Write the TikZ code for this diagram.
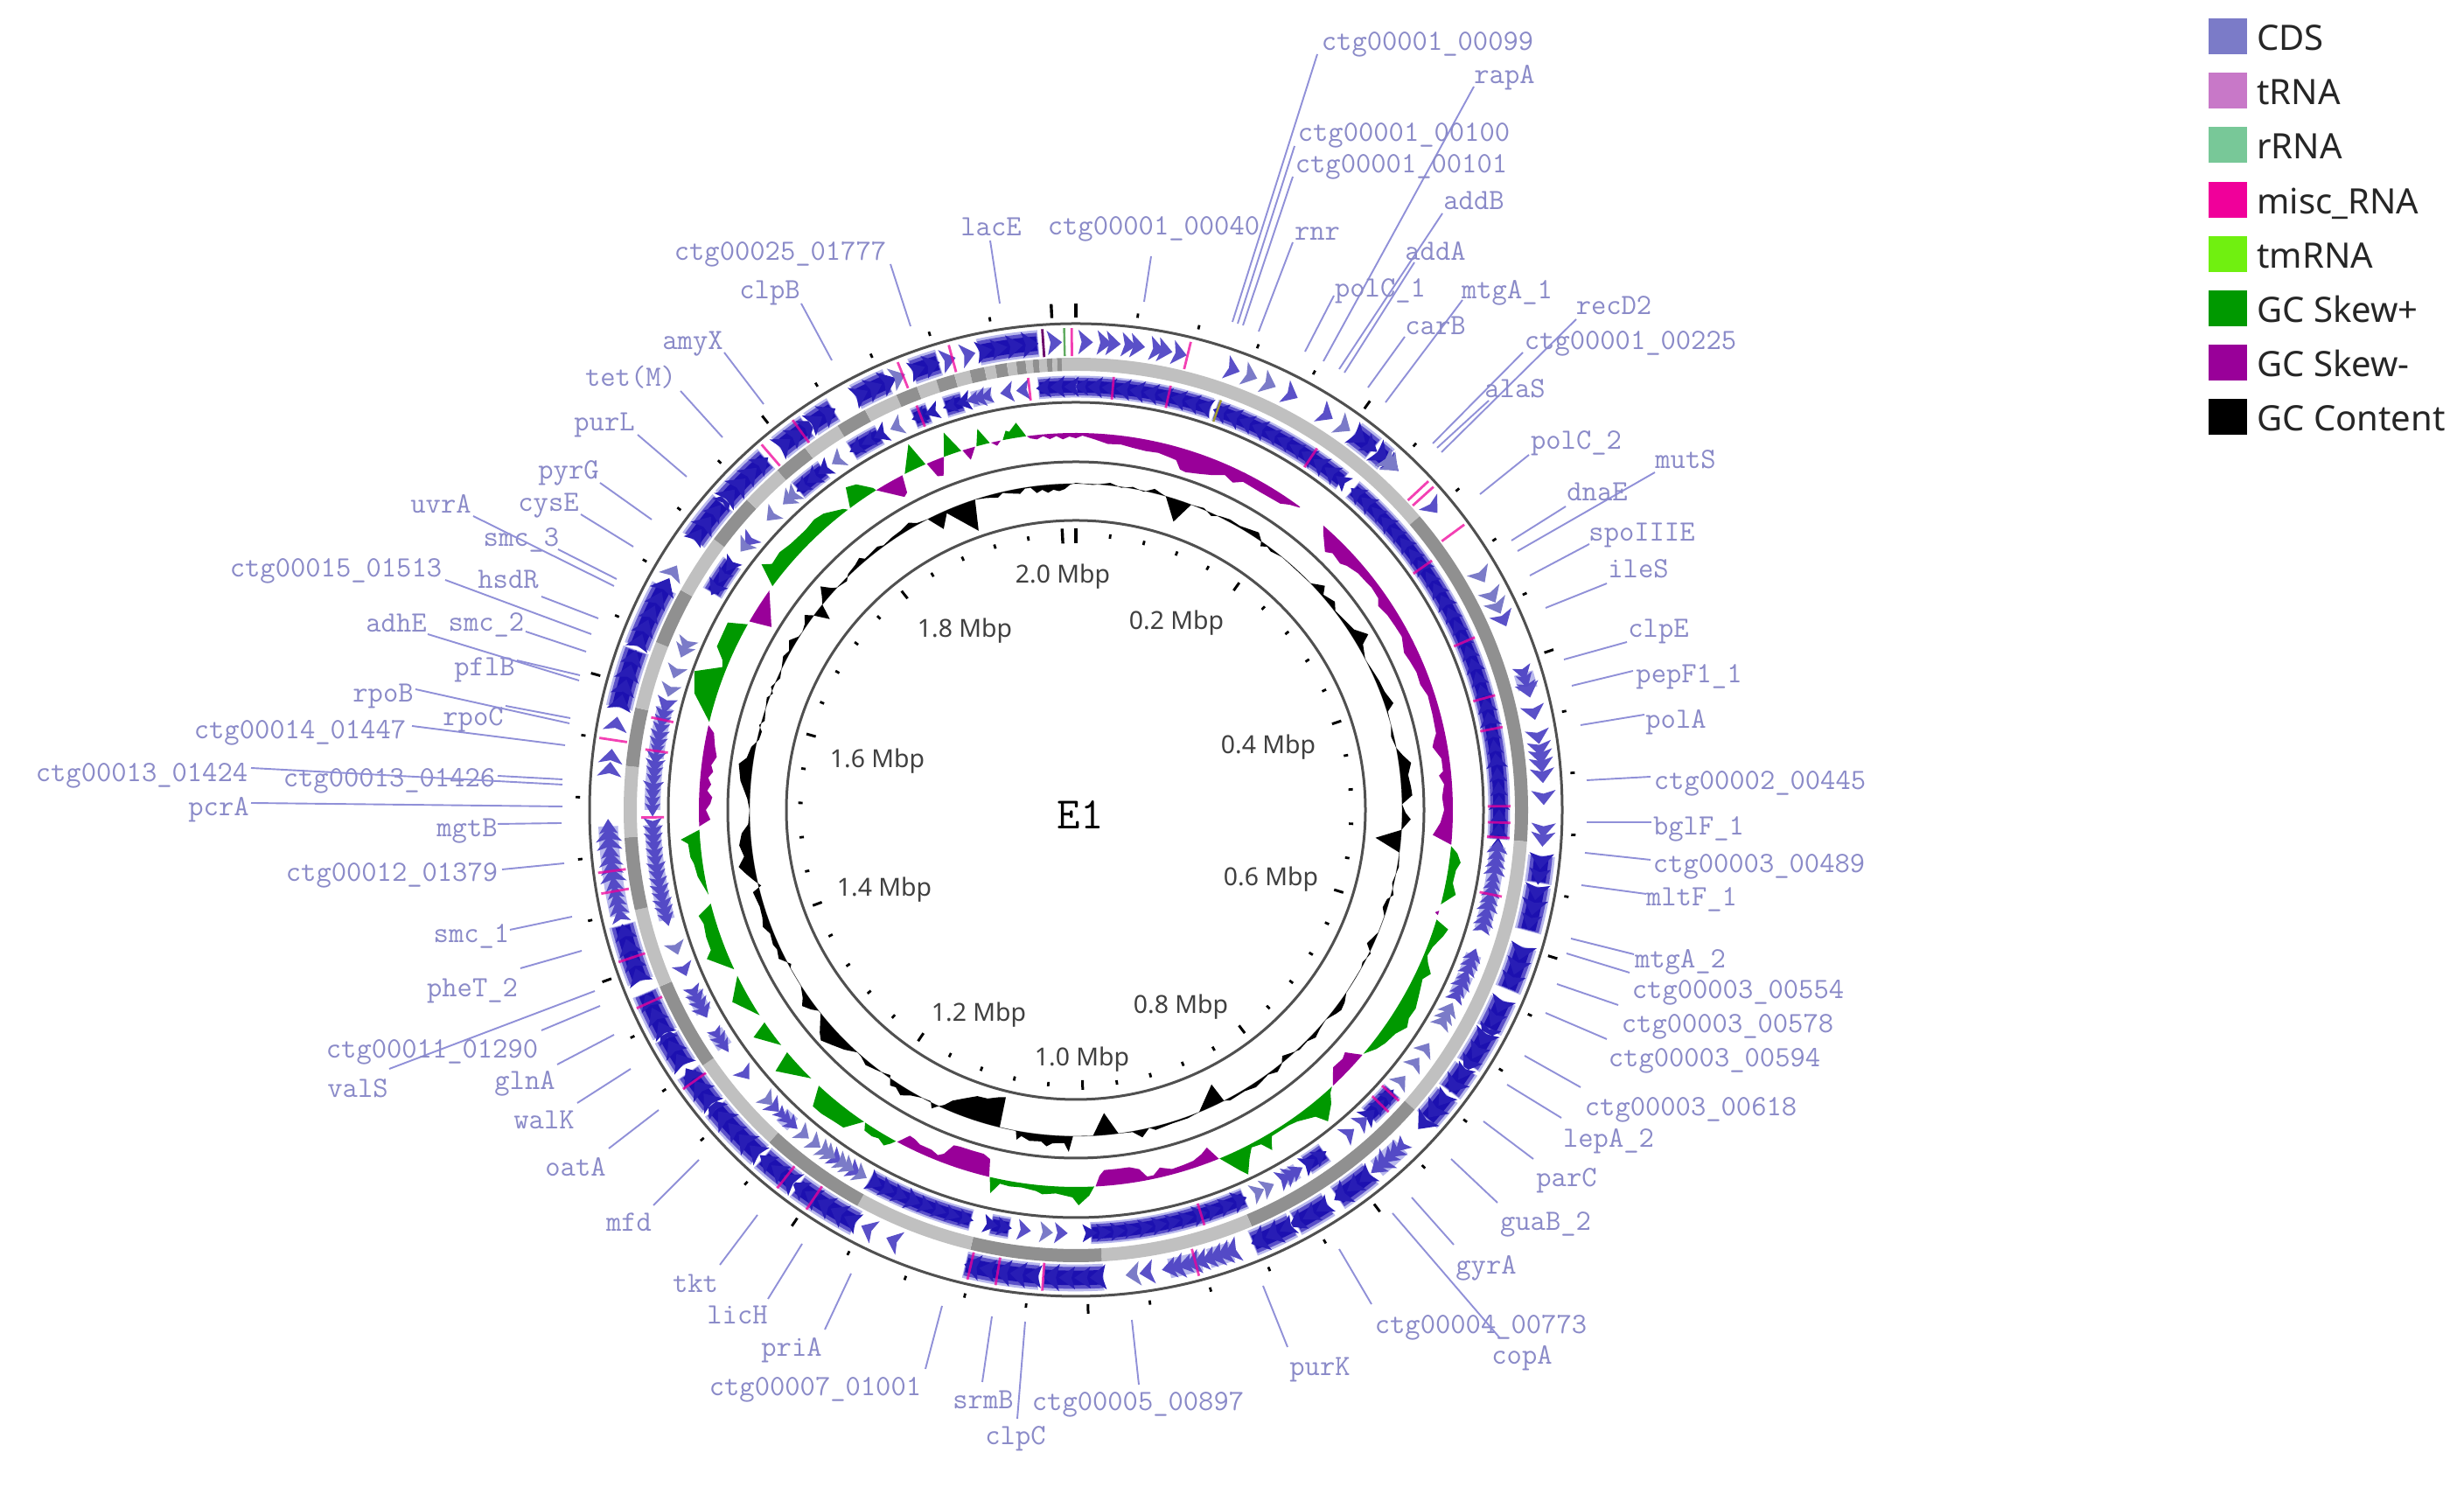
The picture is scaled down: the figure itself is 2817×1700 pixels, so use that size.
\documentclass[tikz,border=0pt]{standalone}
\usepackage{fontspec}
\setsansfont{Noto Sans}
\definecolor{cdsL}{HTML}{7B7BC8}\definecolor{trnaL}{HTML}{C878C8}\definecolor{rrnaL}{HTML}{78C898}
\definecolor{miscL}{HTML}{F0009A}\definecolor{tmL}{HTML}{70F010}\definecolor{skP}{HTML}{009900}
\definecolor{skM}{HTML}{990099}\definecolor{gL}{HTML}{C0C0C0}\definecolor{gD}{HTML}{909090}
\definecolor{labC}{HTML}{8A8AC8}\definecolor{lineC}{HTML}{9090D8}\definecolor{ringC}{HTML}{505050}
\definecolor{deep}{HTML}{1C10B0}\definecolor{midb}{HTML}{5A50C8}\definecolor{halo}{HTML}{B8B8EC}
\tikzset{
  glabel/.style={text=labC,font=\ttfamily\fontsize{16.8}{18}\selectfont,inner sep=0pt,text height=12pt,text depth=2pt},
  gline/.style={lineC,line width=0.95pt},
  mbp/.style={text=black!75,font=\sffamily\fontsize{14.2}{16}\selectfont,inner sep=0pt,text height=10.5pt,text depth=0pt},
  swatch/.style={minimum width=22pt,minimum height=20.5pt,inner sep=0pt,draw=none},
  legtext/.style={text=black!85,font=\sffamily\fontsize{20}{22}\selectfont,inner sep=0pt,anchor=west,text height=14.5pt,text depth=0pt}
}
\newcommand\arcseg[5]{\draw[#5,line width=#2*0.5pt] ({90-(#3)}:#1) arc[start angle={90-(#3)},end angle={90-(#4)},radius=#1];}
% chevron: radius, angle, direction, half height, half angular width, colour
\newcommand\chv[6]{\fill[#6] ({90-(#2-(#3)*#5)}:{#1+#4}) -- ({90-(#2+(#3)*#5)}:{#1}) -- ({90-(#2-(#3)*#5)}:{#1-#4}) -- ({90-(#2-0.55*(#3)*#5)}:{#1}) -- cycle;}
% dense block
\newcommand\dens[5]{%
  \arcseg{#1}{#2*0.96}{#3}{#4}{halo}
  \arcseg{#1}{#2*0.78}{#3+0.1}{#4-0.1}{midb}
  \arcseg{#1}{#2*0.52}{#3+0.2}{#4-0.2}{deep}
  \pgfmathsetmacro\nxt{#3+1.9}
  \foreach \ta in {#3,\nxt,...,#4}{
    \pgfmathsetmacro\hh{#2*(0.36+0.13*rnd)}
    \pgfmathsetmacro\tb{\ta+0.7}
    \chv{#1}{\tb}{#5}{\hh}{1.0}{deep!80!midb}
  }}
% medium block
\newcommand\med[5]{%
  \arcseg{#1}{#2*0.7}{#3}{#4}{halo}
  \pgfmathsetmacro\nxt{#3+1.0}
  \foreach \ta in {#3,\nxt,...,#4}{
    \pgfmathsetmacro\hh{#2*(0.30+0.18*rnd)}
    \chv{#1}{\ta}{#5}{\hh}{0.9}{midb!90!deep}
  }}
\newcommand\mbar[3]{\draw[miscL,opacity=0.75,line width=1.4pt] ({90-(#3)}:{#1-#2}) -- ({90-(#3)}:{#1+#2});}
\newcommand\band[4]{%
  \foreach \ta/\hh in {#4}{\xdef\lastT{\ta}}%
  \fill[#1] ({90-(#3)}:431) \foreach \ta/\hh in {#4}{ -- ({90-\ta}:{431+(#2)*\hh}) } -- ({90-\lastT}:431) arc[start angle={90-\lastT},end angle={90-(#3)},radius=431] -- cycle;}
\begin{document}
\begin{tikzpicture}[x=0.5pt,y=0.5pt]
\useasboundingbox (0,0) rectangle (2817,1700);
\fill[white] (0,0) rectangle (2817,1700);
\pgfmathsetseed{4711}
\begin{scope}[shift={(1230,774)}]
% ---- outer CDS track
\foreach \sa/\sb in {36.5/39.5,40/41.5,95.6/99,99.4/105,107/112.6,114/118,118.5/123,123.5/127,127.5/131.4,141/146,147.4/152,152.5/157.8,176.6/184,184.5/193.7,208/216.5,217/222,222.5/230.4,231/235.9,236.9/241,241.4/247,248.5/255.8,282.6/290,290.4/298.4,305.2/311,311.5/318.6,320.7/325,325.5/328.8,331.9/336.3,339.5/343,348/355.4}
  {\dens{535}{32}{\sa}{\sb}{1}}
\foreach \sa/\sb in {73/75,136/140,160.5/163.5,164.5/168.5,257/268}
  {\med{535}{32}{\sa}{\sb}{1}}
\foreach \ta in {1.2,3.5,4.6,6.5,7.6,10,11,12.8,19.6,27.4,32.4,49.7,66,75.2,78,81,82.5,83.5,84.5,85.8,88.5,92.5,93.6,171.3,203,206.4,275,276.6,280.6,344.2,346.7,357.4}
  {\chv{535}{\ta}{1}{14}{0.9}{midb}}
\foreach \ta in {21.9,24.4,35,41.9,42.6,60,62.8,64.3,173,300.6,337.7}
  {\chv{535}{\ta}{1}{14}{0.9}{cdsL}}
\foreach \ta in {13.8,47,47.9,53.7,165.2,184,189.6,193,214,218.3,234.6,245.7,251.6,260,262.5,278.6,319.3,324,338.3,344.7,359.5}
  {\mbar{535}{16}{\ta}}
\draw[skM!70!black,line width=1.4pt] ({90-356}:519) -- ({90-356}:551);
\draw[skP!50!gL,line width=1.2pt] ({90-358.6}:519) -- ({90-358.6}:551);
% ---- contig ring
\foreach \sa/\sb/\sc in {0/49.5/gL,49.5/94/gD,94/131.5/gL,131.5/157.1/gD,157.1/176.7/gL,176.7/193.5/gD,193.5/208.9/gL,208.9/222.7/gD,222.7/235.6/gL,235.6/247/gD,247/257.2/gL,257.2/266.5/gD,266.5/275.6/gL,275.6/283.1/gD,283.1/291.8/gL,291.8/299.1/gD,299.1/306.8/gL,306.8/313.3/gD,313.3/318.7/gL,318.7/323.2/gD,323.2/328.2/gL,328.2/332.2/gD,332.2/336.6/gL,336.6/339.4/gD,339.4/342/gL,342/344.4/gD,344.4/346.4/gL,346.4/348.3/gD,348.3/349.7/gL,349.7/351.2/gD,351.2/352.4/gL,352.4/353.6/gD,353.6/354.5/gL,354.5/355.3/gD,355.3/356.3/gL,356.3/357/gD,357/357.6/gL,357.6/358.2/gD,358.2/360/gL}
  {\arcseg{509.5}{15}{\sa}{\sb}{\sc}}
% ---- inner CDS track
\foreach \sa/\sb in {0/18.6,19.2/39,40.8/94,131.6/136.2,144/147,156.5/178,189/191.6,194.3/209.2,300.8/305.7,319/323.5,328/332.4,337.5/339.7,342/344.5,354.9/360}
  {\dens{484}{26}{\sa}{\sb}{-1}}
\foreach \sa/\sb in {95/106.4,110/112.5,113/116,148.5/150.5,222/224,236/238.5,241.5/244.5,255/268,270/276.6,277/284,345.8/348.5}
  {\med{484}{26}{\sa}{\sb}{-1}}
\foreach \ta in {137.4,139.8,182,187,211.5,214.5,225.4,231.4,247.8,284.5,309.5,350.6,352.8}
  {\chv{484}{\ta}{-1}{12}{0.9}{midb}}
\foreach \ta in {118,119,120,124.3,126.7,129.8,153,154.5,184,210.5,212.5,213.5,215.5,216.4,218,220,226.7,250.9,286.4,289,292,293,308.5,314,317.1,318,325.7,334.9}
  {\chv{484}{\ta}{-1}{12}{0.9}{cdsL}}
\foreach \ta in {5,12.6,33.7,55,66.6,74.7,79,89.5,91.7,93.7,101.5,132,134,162.8,269,278,282.3,338.5,353.7}
  {\mbar{484}{13}{\ta}}
\draw[olive!70!gL,line width=1.2pt] ({90-19.5}:471) -- ({90-19.5}:497);
% ---- GC skew
\band{skM}{-1}{352.5}{353/3,354/5,355/2,356/6,357/3,358/7,359/4,360/6,361/3,362/5,363/7,365/11,367/10,369/12,371/13,373/12,375/14,376/15,377/24,378/25,380/22,382/18,384/12,385.6/16,387/10,390/11,393.7/10,395/5,396.5/1}
\band{skM}{-1}{41}{42/8,44/21,45/16,47/18,48/14,50/10,52/9,53/8,55/9,56/14,58/11,60/10,62/9,64.4/15,66/13,68/11,70/12,72/8,75/9,78/10,79/14,80/17,82/9,84/9,84.6/14,86/9,88/12,90/10,92/14,93/18,94/22,95.3/0}
\band{skP}{1}{95.5}{96.5/8,97.8/13,99/9,101/8,102.6/14,104.5/0}
\band{skM}{-1}{105.5}{105.9/4,106.2/0}
\band{skP}{1}{106.9}{107.8/16,109/13,111/6,112.5/4,113.5/8,114.8/16,116/10,118/14,120.3/19,122/18,123.3/22,125/15,127/12,128.5/8,130.3/0}
\band{skM}{-1}{130.5}{131.2/8,132/17,133/14,135/15,136/8,137/0}
\band{skP}{1}{137.2}{138/4,139/14,141/27,142/14,144.6/6,146/4,149/4,149.5/10,150/18,151/6,152.5/4,153.5/14,154.7/30,155.5/22,157.6/0}
\band{skM}{-1}{157.7}{158.8/17,160/12,161.5/8,163/7,165/6,166.8/11,168/4,169/4,170/14,171.5/18,173.4/18,175.5/18,176.3/12,177/0}
\band{skP}{1}{177.2}{178/10,179.6/21,180.5/12,183/8,184/9,185/10,186/7,188.2/5,190/6,191.5/5,192.6/18,193.2/0}
\band{skM}{-1}{193.3}{193.8/20,195/24,197/24,199/24,200/23,201/10,201.8/6,203/9,205/9,206/12,207/13,208.3/0}
\band{skP}{1}{208.5}{209/5,209.8/11,211/7,212/9,213.4/8,214/0}
\band{skP}{1}{214.2}{216.2/19,218/20,220/22,221.6/22,223/0}
\band{skP}{1}{224.6}{229/24,230/0}
\band{skP}{1}{231.4}{234.8/20,235.7/0}
\band{skP}{1}{237}{240.8/19,243.9/0}
\band{skP}{1}{245}{248/24,249/16,251/16,253/14,254.3/17,255.6/0}
\band{skP}{1}{257}{260/8,262/10,263/13,265/14,265.7/22,267/0}
\band{skM}{-1}{267.5}{268.5/13,270/8,271/13,272/15,273/9,274/13,275/9,276/14,277/11,278.4/16,280/12,282/8,283/0}
\band{skP}{1}{283.5}{287/25,290/33,292/5,293/8,294.5/20,298.3/21,299.5/0}
\band{skM}{-1}{300}{301/25,305.6/0}
\band{skP}{1}{306.4}{308/25,309/16,311/18,313/15,316/14,318/16,319.6/14,322.3/4,322.8/0}
\band{skP}{1}{323.2}{324.5/22,326/18,327.8/4,328/0}
\band{skM}{-1}{328}{331.3/23,332/20,332.6/0}
\band{skP}{1}{333}{335.4/29,336.5/0}
\band{skM}{-1}{336.7}{337.5/18,338.4/20,339.5/0}
\band{skP}{1}{339.5}{340.7/26,342.3/0}
\band{skM}{-1}{342.5}{343.3/13,344.5/0}
\band{skP}{1}{344.7}{345.5/19,346.8/0}
\band{skM}{-1}{347}{347.8/5,348.5/0}
\band{skP}{1}{348.8}{349.5/10,350/8,351.2/17,352.3/2,352.4/0}
% ---- GC content
\draw[black!35,line width=0.4pt] (0,0) circle[radius=373];
\fill[black,even odd rule] (90:374) \foreach \ta/\hh in {3/-1,6/3,8/-1,10/2,12/-1,13.8/5,15/2,16/0,18.7/-25,20.7/0,23/2,24.7/-3,26/1,28/3,30/2,33.4/7,34.5/1,35/-5,36/-1,37/-3,39.2/0,46/0,47/5,48/10,49/2,51.2/7,52.5/1,55.4/4,57/6,59/17,60/6,62.5/0,65/2,67/4,69/5,71.4/10,72.5/1,75/0,76.9/-3,79/0,80.5/6,82/14,84/9,86/11,87.5/12,89/0,90.5/4,91.6/10,93.5/0,95.3/-29,97.5/0,100/2,103/-2,105/3,106/-3,107.6/-5,109/0,112/0,114.6/-7,116/2,118/-2,119/0,124/0,125.6/5,127/7,128/5,130/0,132/2,133.5/5,135/1,137/2,138.5/-2,140/-6,141/1,142.4/5,144/1,145.5/3,147/5,149/2,152/3,153/0,153.7/-23,157.8/0,160/2,163/2,166/4,167/0,168.5/9,170/1,172.5/0,174.7/-25,177/0,180.5/0,181.2/18,182/8,184/9,185/13,186/8,188/9,189.5/5,190.2/10,190.6/0,193.5/0,193.7/-35,195/-33,197/-28,199/-27,201/-20,203/-12,204/-4,205/1,205.8/6,206.5/-1,208/0,210/4,211.6/10,213/5,214/7,215/-3,217/1,219.5/5,221/1,222/0,224/8,226/14,227.9/20,229/15,231.5/0,232/0,233/6,234.4/12,235.5/6,237.5/0,241/0,241.6/-3,243.4/7,245/4,246/6,248/4,249.5/9,251/6,253/5,255.7/8,256.5/-3,257.5/3,259/11,260.4/18,262/10,264/14,266/10,267.5/2,270/0,272/3,275/12,277.8/16,279/8,281/5,282.5/-2,284/-3,285/2,286/-3,288/0,290/3,291/-2,292/3,294/-3,296/1,297.7/5,299/2,300.6/8,302/1,303/0,304.5/3,305.7/9,306.5/1,307.8/-17,309/0,310/6,311.2/15,312.3/4,313/0,315/-3,316/2,318/4,319.3/7,320/2,323/4,324/1,326/3,328/4,329.8/7,331/2,333/0,334.8/-18,336.5/-3,340.8/-35,342/0,344/-2,346/-5,347/-1,348/-3,350/-6,351/-1,352/-1,353/-8,354/-5,355/-9,356/-6,357/-8,358/-6,359/-1,360/1}{ -- ({90-\ta}:{373+\hh}) } -- ({90-360}:373) arc[start angle={90-360},end angle=90,radius=373] -- cycle;
% ---- rings
\foreach \rr in {556,466,398,331}{\draw[ringC,line width=1.5pt] (0,0) circle[radius=\rr];}
% ---- ticks
\foreach \ii in {0,...,50}{
  \pgfmathsetmacro\an{90-\ii*7.144}
  \pgfmathtruncatemacro\mm{mod(\ii,5)}
  \ifnum\ii=0
    \draw[black,line width=2.3pt] (\an:563) -- (\an:579);
    \draw[black,line width=2.3pt] (\an:305) -- (\an:322);
  \else\ifnum\ii=50
    \draw[black,line width=1.7pt] (\an:563) -- (\an:579);
    \draw[black,line width=1.7pt] (\an:305) -- (\an:322);
  \else\ifnum\mm=0
    \draw[black,line width=1.5pt] (\an:565) -- (\an:576);
    \draw[black,line width=1.5pt] (\an:309) -- (\an:320);
  \else
    \draw[black,line width=1.4pt] (\an:567) -- (\an:572);
    \draw[black,line width=1.4pt] (\an:312.5) -- (\an:317.5);
  \fi\fi\fi
}
\end{scope}
\begin{scope}[shift={(0,1700)},y=-0.5pt]
\foreach \nm/\xx/\yy/\tx/\xa/\ya/\xb/\yb in {
a/1632/48/ctg00001\_00099/1506/62/1409/368,
b/1720/86/rapA/1685/99/1513/413,
c/1605/152/ctg00001\_00100/1480/167/1415/370,
d/1602/188/ctg00001\_00101/1478/202/1421/372,
e/1685/230/addB/1649/244/1531/422,
f/1319/259/ctg00001\_00040/1316/293/1308/345,
g/1506/265/rnr/1478/277/1439/379,
h/1641/288/addA/1617/300/1537/426,
i/1578/330/polC\_1/1525/338/1492/402,
j/1723/332/mtgA\_1/1672/343/1584/460,
k/1845/350/recD2/1802/365/1648/517,
l/1864/390/ctg00001\_00225/1741/403/1638/507,
m/1641/373/carB/1606/385/1564/443,
n/1732/445/alaS/1702/458/1643/512,
o/1802/504/polC\_2/1748/520/1692/565,
p/1927/526/mutS/1892/540/1735/630,
q/1826/563/dnaE/1790/579/1728/618,
r/1877/609/spoIIIE/1817/622/1749/658,
s/1873/651/ileS/1837/667/1767/695,
t/1896/719/clpE/1860/734/1788/754,
u/1931/771/pepF1\_1/1867/767/1797/784,
v/1916/823/polA/1880/817/1807/829,
w/2012/893/ctg00002\_00445/1887/888/1814/892,
x/1942/945/bglF\_1/1888/940/1814/940,
y/2011/988/ctg00003\_00489/1887/983/1812/975,
z/1934/1026/mltF\_1/1882/1022/1808/1012,
aa/1921/1097/mtgA\_2/1868/1091/1796/1073,
ab/1987/1132/ctg00003\_00554/1863/1112/1791/1090,
ac/1975/1171/ctg00003\_00578/1850/1149/1780/1125,
ad/1960/1210/ctg00003\_00594/1837/1188/1767/1158,
ae/1933/1266/ctg00003\_00618/1807/1243/1743/1207,
af/1839/1302/lepA\_2/1785/1278/1723/1240,
ag/1791/1347/parC/1753/1325/1696/1282,
ah/1767/1397/guaB\_2/1712/1375/1659/1325,
ai/1699/1447/gyrA/1662/1423/1614/1369,
aj/1693/1515/ctg00004\_00773/1568/1491/1531/1428,
ak/1740/1550/copA/1715/1530/1592/1387,
al/1509/1563/purK/1472/1540/1444/1470,
am/1301/1603/ctg00005\_00897/1302/1583/1294/1509,
an/1161/1642/clpC/1163/1622/1172/1511,
ao/1124/1601/srmB/1123/1580/1134/1505,
ap/932/1586/ctg00007\_01001/1058/1565/1077/1493,
aq/905/1541/priA/943/1520/973/1456,
ar/843/1504/licH/878/1485/917/1422,
as/795/1468/tkt/823/1446/866/1389,
at/719/1398/mfd/747/1378/799/1326,
au/658/1335/oatA/696/1313/753/1269,
av/622/1281/walK/660/1261/721/1222,
aw/600/1236/glnA/637/1217/702/1183,
ax/409/1245/valS/445/1222/680/1133,
ay/494/1200/ctg00011\_01290/619/1178/686/1150,
az/540/1130/pheT\_2/595/1107/665/1087,
ba/539/1068/smc\_1/583/1063/654/1048,
bb/448/998/ctg00012\_01379/574/994/645/987,
bc/534/947/mgtB/569/942/642/941,
bd/250/923/pcrA/287/918/643/922,
be/445/890/ctg00013\_01426/569/887/643/891,
bf/162/884/ctg00013\_01424/287/878/643/897,
bg/343/835/ctg00014\_01447/471/830/646/852,
bh/541/820/rpoC/578/807/652/821,
bi/438/793/rpoB/475/788/651/827,
bj/554/763/pflB/591/755/663/772,
bk/453/713/adhE/489/725/662/778,
bl/556/712/smc\_2/601/722/670/745,
bm/581/663/hsdR/619/682/684/707,
bn/384/650/ctg00015\_01513/509/663/676/725,
bo/596/615/smc\_3/638/628/705/662,
bp/504/577/uvrA/541/590/702/670,
bq/627/575/cysE/664/588/724/625,
br/650/538/pyrG/686/552/745/594,
bs/691/483/purL/729/497/785/545,
bt/721/432/tet(M)/778/447/826/500,
bu/792/390/amyX/828/403/873/462,
bv/880/332/clpB/916/347/951/412,
bw/892/288/ctg00025\_01777/1018/302/1041/373,
bx/1133/260/lacE/1132/275/1143/347}{
  \coordinate (la\nm) at (\xa,\ya);
  \coordinate (lb\nm) at (\xb,\yb);
  \draw[gline] (la\nm) -- (lb\nm);
  \node[glabel] (lab\nm) at (\xx,\yy) {\tx};
}
\foreach \nm/\xx/\yy/\tx in {m0/1215/656/2.0 Mbp,m2/1345/709/0.2 Mbp,m4/1450/851/0.4 Mbp,m6/1453/1002/0.6 Mbp,m8/1350/1148/0.8 Mbp,m10/1237/1208/1.0 Mbp,m12/1119/1157/1.2 Mbp,m14/1011/1014/1.4 Mbp,m16/1003/867/1.6 Mbp,m18/1103/718/1.8 Mbp}
  {\node[mbp] (\nm) at (\xx,\yy) {\tx};}
\node[inner sep=0pt,font=\ttfamily\fontsize{25.7}{28}\selectfont] (center) at (1235,932) {E1};
\foreach \nm/\cc/\tx [count=\ii from 0] in {l1/cdsL/CDS,l2/trnaL/tRNA,l3/rrnaL/rRNA,l4/miscL/misc\_RNA,l5/tmL/tmRNA,l6/skP/GC Skew+,l7/skM/GC Skew-,l8/black/GC Content}{
  \pgfmathsetmacro\yy{41.5+62.2*\ii}
  \node[swatch,fill=\cc] (sw\nm) at (2547,\yy) {};
  \pgfmathsetmacro\yt{\yy+1.5}
  \node[legtext] (tx\nm) at (2580,\yt) {\tx};
}
\end{scope}
\end{tikzpicture}
\end{document}
